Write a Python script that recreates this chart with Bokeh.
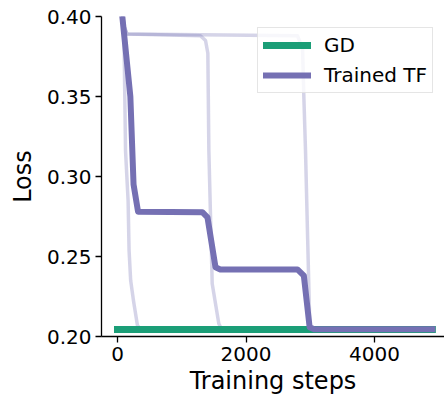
from bokeh.plotting import figure
from bokeh.models import Range1d, FixedTicker, PrintfTickFormatter
from bokeh.embed import file_html
from bokeh.resources import INLINE

# Gradient-descent baseline loss
gd_steps = [0, 4900]
gd_loss = [0.2043, 0.2043]

# Trained transformer: mean loss curve
tf_steps = [0, 100, 200, 250, 320, 1320, 1400, 1525, 1600, 2800, 2900, 2990, 3060, 4900]
tf_loss = [0.43, 0.39, 0.35, 0.295, 0.278, 0.2777, 0.2745, 0.2433, 0.2419, 0.2419, 0.238, 0.2058, 0.2045, 0.2045]

# Individual runs (faint)
run1_steps = [0, 100, 125, 165, 180, 205, 250, 310, 360, 4900]
run1_loss = [0.43, 0.39, 0.316, 0.285, 0.254, 0.235, 0.222, 0.207, 0.2045, 0.2045]

run2_steps = [0, 100, 150, 1290, 1370, 1406, 1422, 1474, 1577, 1620, 4900]
run2_loss = [0.43, 0.394, 0.389, 0.388, 0.385, 0.377, 0.316, 0.233, 0.208, 0.2045, 0.2045]

run3_steps = [0, 100, 150, 2800, 2880, 2900, 2926, 2960, 2993, 3040, 4900]
run3_loss = [0.43, 0.394, 0.389, 0.388, 0.38, 0.35, 0.316, 0.26, 0.206, 0.2045, 0.2045]

x_ticks = [0, 2000, 4000]
y_ticks = [0.20, 0.25, 0.30, 0.35, 0.40]

GREEN = "#1b9e77"
PURPLE = "#7570b3"
FONT = "DejaVu Sans"

p = figure(
    width=444, height=402,
    x_range=Range1d(-249, 5089), y_range=Range1d(0.2, 0.4),
    output_backend="svg", toolbar_location=None,
    min_border_left=101, min_border_right=0,
    min_border_top=16, min_border_bottom=66,
)
p.outline_line_color = None
p.xgrid.visible = False
p.ygrid.visible = False
p.background_fill_color = "white"
p.border_fill_color = "white"

for xs, ys in [(run1_steps, run1_loss), (run2_steps, run2_loss), (run3_steps, run3_loss)]:
    p.line(xs, ys, line_color=PURPLE, line_alpha=0.3, line_width=3.5, line_join="round")

p.line(gd_steps, gd_loss, line_color=GREEN, line_width=7, line_cap="square", legend_label="GD")
p.line(tf_steps, tf_loss, line_color=PURPLE, line_width=6, line_join="round",
       line_cap="square", legend_label="Trained TF")

for ax in (p.xaxis[0], p.yaxis[0]):
    ax.axis_line_color = "black"
    ax.axis_line_width = 1.3
    ax.major_tick_line_color = "black"
    ax.major_tick_line_width = 1.3
    ax.major_tick_out = 6
    ax.major_tick_in = 0
    ax.minor_tick_line_color = None
    ax.major_label_text_font = FONT
    ax.major_label_text_font_size = "20px"
    ax.major_label_text_color = "black"
    ax.major_label_standoff = 4
    ax.axis_label_text_font = FONT
    ax.axis_label_text_font_size = "24px"
    ax.axis_label_text_font_style = "normal"
    ax.axis_label_text_color = "black"

p.xaxis.axis_label_standoff = 3
p.yaxis.axis_label_standoff = 7
p.xaxis.ticker = FixedTicker(ticks=x_ticks)
p.yaxis.ticker = FixedTicker(ticks=y_ticks)
p.yaxis.formatter = PrintfTickFormatter(format="%.2f")
p.xaxis.axis_label = "Training steps"
p.yaxis.axis_label = "Loss"

lg = p.legend[0]
lg.location = (156, 243)
lg.label_text_font = FONT
lg.label_text_font_size = "20px"
lg.label_text_color = "black"
lg.glyph_width = 48
lg.glyph_height = 24
lg.label_height = 24
lg.label_standoff = 13
lg.spacing = 6
lg.padding = 5
lg.margin = 0
lg.border_line_color = "#cccccc"
lg.border_line_width = 1
lg.background_fill_alpha = 0.8

open("out.html", "w").write(file_html(p, INLINE))
